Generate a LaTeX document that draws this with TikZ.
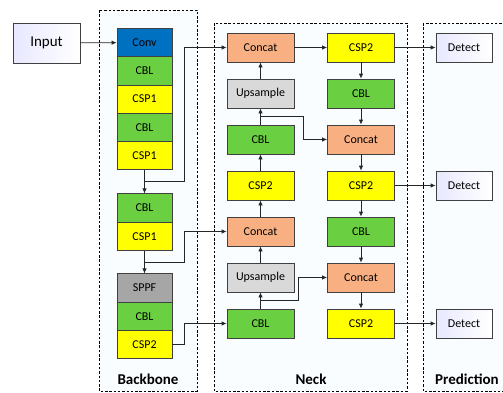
\documentclass[tikz,border=0pt]{standalone}
\usepackage{fontspec}
\setmainfont{Carlito}
\usetikzlibrary{positioning, arrows.meta, calc}

\definecolor{convblue}{HTML}{0070C0}
\definecolor{cblgreen}{HTML}{6AD042}
\definecolor{cspyellow}{HTML}{FFFF00}
\definecolor{catorange}{HTML}{F8B083}
\definecolor{upgray}{HTML}{D9D9D9}
\definecolor{sppfgray}{HTML}{A6A6A6}
\definecolor{edgegray}{HTML}{404040}
\definecolor{framefill}{HTML}{FAFDFF}

\tikzset{
    blk/.style={draw=edgegray, line width=0.8pt, minimum width=55pt, minimum height=28.3pt, inner sep=0pt, font=\fontsize{12}{14}\selectfont},
    nblk/.style={blk, minimum width=67pt, minimum height=29pt},
    iobox/.style={draw=edgegray, line width=0.8pt, left color=blue!9!white, right color=white, inner sep=0pt},
    frame/.style={draw=black, dash pattern=on 2.5pt off 1.8pt, line width=0.6pt, fill=framefill},
    lbl/.style={font=\fontsize{15}{18}\selectfont\bfseries},
    arr/.style={-{Latex[length=5pt,width=4.5pt]}, line width=0.8pt, draw=black!85},
}

\begin{document}
\begin{tikzpicture}[x=1pt, y=-1pt]
\useasboundingbox (0,0) rectangle (503,392);

% frames
\draw[frame] (99,10) rectangle (197,391);
\draw[frame] (214,23) rectangle (407,391);
\draw[frame] (423,23) rectangle (520,391);
\node[lbl] (lbb) at (148,379) {Backbone};
\node[lbl] (lnk) at (311,379) {Neck};
\node[lbl] (lpr) at (467,379) {Prediction};

\node[iobox, minimum width=67pt, minimum height=40pt, font=\fontsize{15}{18}\selectfont] (input) at (46.5,43) {Input};

% backbone
\foreach \i/\y/\c/\name in {1/42.5/convblue/Conv, 2/70.8/cblgreen/CBL, 3/99.1/cspyellow/CSP1, 4/127.4/cblgreen/CBL, 5/155.7/cspyellow/CSP1,
    6/208/cblgreen/CBL, 7/236.3/cspyellow/CSP1, 9/288/sppfgray/SPPF, 10/316.3/cblgreen/CBL, 11/344.6/cspyellow/CSP2} {
    \node[blk, fill=\c] (bb\i) at (144.5,\y) {\name};
}

% neck, left column (upward)
\foreach \i/\y/\c/\name in {1/47.5/catorange/Concat, 2/93.5/upgray/Upsample, 3/139.5/cblgreen/CBL, 4/185.5/cspyellow/CSP2,
    5/231.5/catorange/Concat, 6/277.5/upgray/Upsample, 7/323.5/cblgreen/CBL} {
    \node[nblk, fill=\c] (na\i) at (260.5,\y) {\name};
}

% neck, right column (downward)
\foreach \i/\y/\c/\name in {1/47.5/cspyellow/CSP2, 2/93.5/cblgreen/CBL, 3/139.5/catorange/Concat, 4/185.5/cspyellow/CSP2,
    5/231.5/cblgreen/CBL, 6/277.5/catorange/Concat, 7/323.5/cspyellow/CSP2} {
    \node[nblk, fill=\c] (nb\i) at (361,\y) {\name};
}

% heads
\foreach \i/\y in {1/47.5, 2/185.5, 3/323.5} {
    \node[iobox, minimum width=56pt, minimum height=29pt, font=\fontsize{12}{14}\selectfont] (det\i) at (464,\y) {Detect};
}

\draw[arr] (input) -- (bb1);
\draw[arr] (bb5) -- (bb6);
\draw[arr] (bb7) -- (bb9);

\coordinate (t1) at ($(bb5.south)!0.5!(bb6.north)$);
\coordinate (t2) at ($(bb7.south)!0.5!(bb9.north)$);
\draw[arr] (t1) -- ++(39.5,0) |- (na1.west);
\draw[arr] (t2) -- ++(39.5,0) |- (na5.west);
\draw[arr] (bb11.east) -- ++(12,0) |- (na7.west);

\foreach \a/\b in {7/6, 6/5, 5/4, 4/3, 3/2, 2/1} {
    \draw[arr] (na\a) -- (na\b);
}
\foreach \a/\b in {1/2, 2/3, 3/4, 4/5, 5/6, 6/7} {
    \draw[arr] (nb\a) -- (nb\b);
}
\draw[arr] (na1) -- (nb1);

\coordinate (s1) at ($(na3.north)!0.5!(na2.south)$);
\coordinate (s2) at ($(na7.north)!0.5!(na6.south)$);
\draw[arr] (s1) -- ++(42.5,0) |- (nb3.west);
\draw[arr] (s2) -- ++(37.5,0) |- (nb6.west);

\draw[arr] (nb1) -- (det1);
\draw[arr] (nb4) -- (det2);
\draw[arr] (nb7) -- (det3);
\end{tikzpicture}
\end{document}
